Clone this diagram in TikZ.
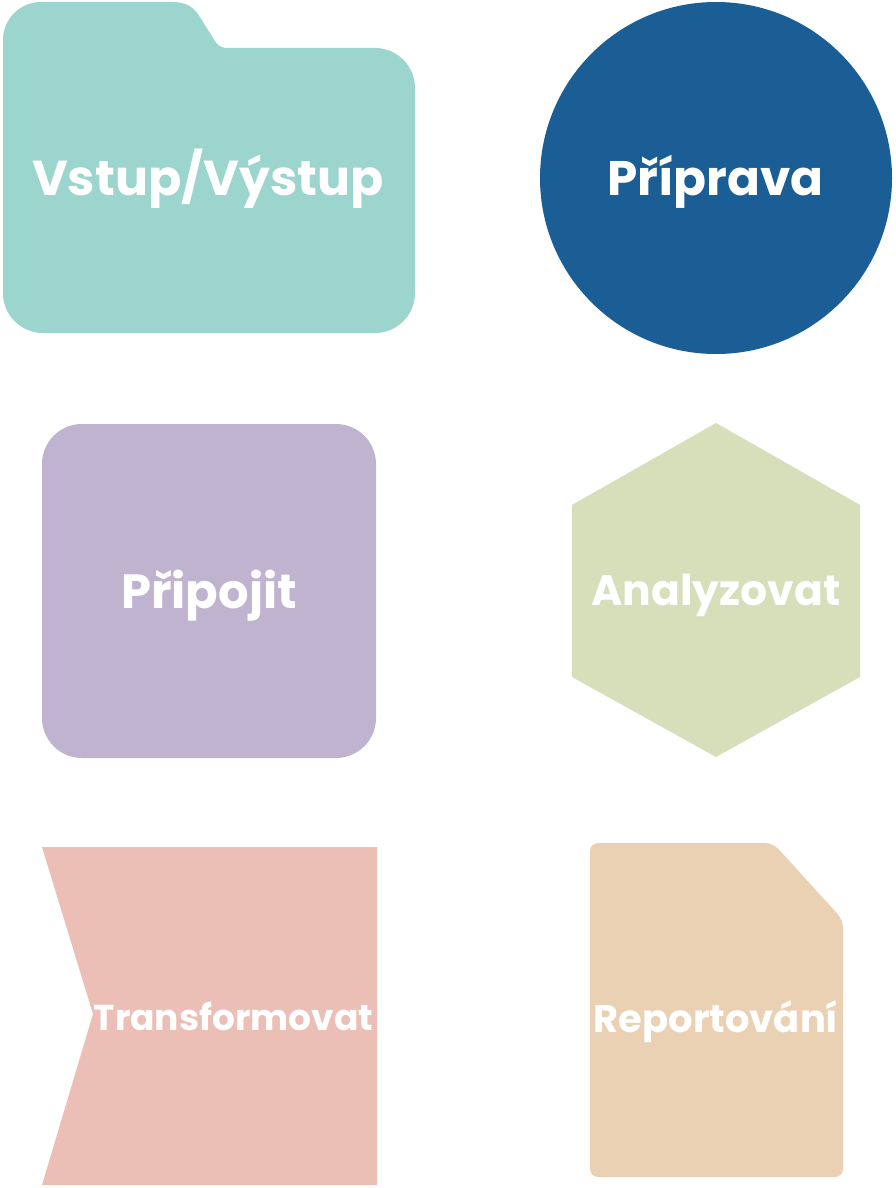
\documentclass[tikz,border=0pt]{standalone}
\usepackage{fontspec}
\setmainfont{Poppins}
\definecolor{cfolder}{HTML}{9BD5CD}
\definecolor{ccircle}{HTML}{1B5E96}
\definecolor{csquare}{HTML}{C0B3CF}
\definecolor{chex}{HTML}{D6DEBA}
\definecolor{ctrans}{HTML}{ECBFB6}
\definecolor{creport}{HTML}{EBD1B4}
\tikzset{
  lbl/.style={text=white, font=\bfseries, inner sep=0pt, anchor=base},
}
\begin{document}
\begin{tikzpicture}[x=1pt,y=-1pt]
\useasboundingbox (0,0) rectangle (896,1188);
% folder
\fill[cfolder] (3,293) -- (3,40) arc[start angle=180, end angle=270, radius=38] -- (172,2)
  .. controls (185,2) and (192,6) .. (198,14) -- (213,38) .. controls (217,45) and (220,48) .. (228,48)
  -- (375,48) arc[start angle=270, end angle=360, radius=40] -- (415,293)
  arc[start angle=0, end angle=90, radius=40] -- (43,333)
  arc[start angle=90, end angle=180, radius=40] -- cycle;
\node[lbl, font=\bfseries\fontsize{49}{49}\selectfont] (io) at (208,195) {Vstup/Výstup};
% circle
\fill[ccircle] (716,178) circle[radius=176];
\node[lbl, font=\bfseries\fontsize{48.5}{48.5}\selectfont] (prep) at (715.5,195) {Příprava};
% rounded square
\fill[csquare, rounded corners=40] (42,424) rectangle (376,758);
\node[lbl, font=\bfseries\fontsize{48}{48}\selectfont] (conn) at (209,608) {Připojit};
% hexagon
\fill[chex] (716,423) -- (860,505) -- (860,677) -- (716,757) -- (572,677) -- (572,505) -- cycle;
\node[lbl, font=\bfseries\fontsize{42.5}{42.5}\selectfont] (anal) at (716,605) {Analyzovat};
% transform
\fill[ctrans] (42,847) -- (377,847) -- (377,1185) -- (42,1185) -- (93,1014) -- cycle;
\node[lbl, font=\bfseries\fontsize{36}{36}\selectfont] (trans) at (233.5,1030) {Transformovat};
% report
\fill[creport, rounded corners=8] (590,843) -- (773,843) -- (843,920) -- (843,1177) -- (590,1177) -- cycle;
\node[lbl, font=\bfseries\fontsize{38.5}{38.5}\selectfont] (rep) at (716,1032) {Reportování};
\end{tikzpicture}
\end{document}
